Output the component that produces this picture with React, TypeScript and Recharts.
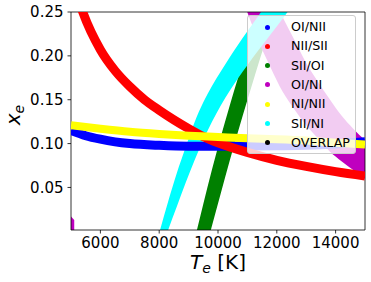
import React from 'react';
import { ComposedChart, Line, Area, XAxis, YAxis, ReferenceArea } from 'recharts';

const xTicks = [6000, 8000, 10000, 12000, 14000];
const yTicks = [0.05, 0.1, 0.15, 0.2, 0.25];

// OI/NII (blue) band centre
const oiNiiX = [5000, 5500, 6000, 6500, 7000, 8000, 9000, 10000, 11000, 12000, 13000, 14000, 15000];
const oiNiiY = [0.115, 0.109, 0.105, 0.102, 0.1, 0.098, 0.097, 0.097, 0.0972, 0.0975, 0.098, 0.0995, 0.102];

// NII/SII (red) band centre
const niiSiiX = [5200, 5400, 6000, 6500, 7000, 7500, 8000, 8500, 9000, 9500, 10000, 11000, 12000, 13000, 14000, 15000];
const niiSiiY = [0.27, 0.25, 0.207, 0.183, 0.165, 0.15, 0.138, 0.127, 0.117, 0.108, 0.101, 0.09, 0.081, 0.074, 0.068, 0.063];

// SII/OI (green) band edges
const siiOiX = [9200, 9500, 9800, 10100, 10400, 10700, 11000, 11300, 11600, 11900];
const siiOiLow = [-0.07, -0.031, 0.0068, 0.0441, 0.0806, 0.1158, 0.1498, 0.1828, 0.215, 0.2465];
const siiOiHigh = [-0.01, 0.031, 0.071, 0.1085, 0.1435, 0.177, 0.2095, 0.2415, 0.273, 0.304];

// OI/NI (magenta) band edges
const oiNiX = [10950, 11400, 11800, 12200, 12600, 13000, 13400, 13800, 14200, 14600, 15000, 15100];
const oiNiLow = [0.254, 0.215, 0.186, 0.159, 0.139, 0.121, 0.106, 0.091, 0.08, 0.07, 0.06, 0.058];
const oiNiHigh = [0.27, 0.27, 0.27, 0.244, 0.218, 0.192, 0.1706, 0.1505, 0.132, 0.117, 0.104, 0.101];
const oiNi2X = [5000, 5110];
const oiNi2Low = [-0.02, -0.02];
const oiNi2High = [0.017, 0.013];

// NI/NII (yellow) band centre
const niNiiX = [5000, 6000, 7000, 8000, 9000, 10000, 11000, 12000, 13000, 14000, 15000];
const niNiiY = [0.121, 0.117, 0.1135, 0.111, 0.109, 0.1075, 0.106, 0.105, 0.1035, 0.101, 0.099];

// SII/NI (cyan) band edges
const siiNiX = [8000, 8300, 8600, 8900, 9200, 9500, 9800, 10100, 10400, 10700, 11000, 11400, 11800, 12300, 12600];
const siiNiLow = [-0.03, 0.001, 0.0283, 0.0553, 0.0808, 0.1042, 0.1252, 0.1438, 0.1603, 0.1753, 0.1894, 0.2074, 0.225, 0.247, 0.26];
const siiNiHigh = [-0.002, 0.0334, 0.0664, 0.0958, 0.124, 0.147, 0.166, 0.1825, 0.1985, 0.2135, 0.228, 0.247, 0.265, 0.285, 0.295];

const legendNames = ['OI/NII', 'NII/SII', 'SII/OI', 'OI/NI', 'NI/NII', 'SII/NI', 'OVERLAP'];
const legendColors = ['#0000ff', '#ff0000', '#008000', '#bf00bf', '#ffff00', '#00ffff', '#000000'];

const pts = (xs: number[], ys: number[]) => xs.map((x, i) => ({ x, y: ys[i] }));
const rng = (xs: number[], lo: number[], hi: number[]) => xs.map((x, i) => ({ x, r: [lo[i], hi[i]] }));

const FONT = 'DejaVu Sans';

const XLabel = () => (
  <text x={218} y={269} textAnchor="middle" fontFamily={FONT} fontSize={20} fill="#000">
    <tspan fontStyle="italic">T</tspan>
    <tspan fontStyle="italic" fontSize={14} dy={4}>e</tspan>
    <tspan dy={-4}> [K]</tspan>
  </text>
);

const YLabel = () => (
  <text x={0} y={0} transform="translate(20,115) rotate(-90)" textAnchor="middle" fontFamily={FONT} fontSize={20} fill="#000">
    <tspan fontStyle="italic">x</tspan>
    <tspan fontStyle="italic" fontSize={14} dy={4}>e</tspan>
  </text>
);

export default function App() {
  const yMin = 0.0015;
  return (
    <div style={{ position: 'absolute', left: 0, top: 0, width: 371, height: 282, background: '#fff' }}>
      <ComposedChart width={371} height={282} margin={{ top: 12, right: 6, bottom: 22, left: 0 }}>
        <XAxis
          type="number"
          dataKey="x"
          domain={[5000, 15000]}
          allowDataOverflow
          ticks={xTicks}
          height={30}
          axisLine={false}
          tickLine={{ stroke: '#000', strokeWidth: 0.8 }}
          tickSize={3.5}
          tickMargin={4}
          tick={{ fill: '#000', fontSize: 15, fontFamily: FONT }}
          label={{ content: () => <XLabel /> }}
        />
        <YAxis
          type="number"
          domain={[yMin, 0.25]}
          allowDataOverflow
          ticks={yTicks}
          width={71}
          axisLine={false}
          tickLine={{ stroke: '#000', strokeWidth: 0.8 }}
          tickSize={3.5}
          tickMargin={4}
          tickFormatter={(v: number) => v.toFixed(2)}
          tick={{ fill: '#000', fontSize: 15, fontFamily: FONT }}
          label={{ content: () => <YLabel /> }}
        />
        <Line data={pts(oiNiiX, oiNiiY)} dataKey="y" type="monotone" stroke="#0000ff" strokeWidth={9} dot={false} activeDot={false} isAnimationActive={false} />
        <Line data={pts(niiSiiX, niiSiiY)} dataKey="y" type="monotone" stroke="#ff0000" strokeWidth={9} dot={false} activeDot={false} isAnimationActive={false} />
        <Area data={rng(siiOiX, siiOiLow, siiOiHigh)} dataKey="r" type="monotone" stroke="none" fill="#008000" fillOpacity={1} dot={false} activeDot={false} isAnimationActive={false} />
        <Area data={rng(oiNiX, oiNiLow, oiNiHigh)} dataKey="r" type="monotone" stroke="none" fill="#bf00bf" fillOpacity={1} dot={false} activeDot={false} isAnimationActive={false} />
        <Area data={rng(oiNi2X, oiNi2Low, oiNi2High)} dataKey="r" type="linear" stroke="none" fill="#bf00bf" fillOpacity={1} dot={false} activeDot={false} isAnimationActive={false} />
        <Line data={pts(niNiiX, niNiiY)} dataKey="y" type="monotone" stroke="#ffff00" strokeWidth={8} dot={false} activeDot={false} isAnimationActive={false} />
        <Area data={rng(siiNiX, siiNiLow, siiNiHigh)} dataKey="r" type="monotone" stroke="none" fill="#00ffff" fillOpacity={1} dot={false} activeDot={false} isAnimationActive={false} />
        <ReferenceArea x1={5000} x2={15000} y1={yMin} y2={0.25} fill="none" stroke="#000" strokeWidth={0.8} ifOverflow="visible" />
      </ComposedChart>
      <div
        style={{
          position: 'absolute',
          left: 247,
          top: 15,
          width: 109,
          height: 139,
          boxSizing: 'border-box',
          background: 'rgba(255,255,255,0.8)',
          border: '1px solid #cccccc',
          borderRadius: 3,
          fontFamily: FONT,
          fontSize: 12.7,
          color: '#000',
        }}
      >
        {legendNames.map((name, i) => (
          <div
            key={name}
            style={{ position: 'absolute', left: 0, top: 11 + 19.3 * i - 8, height: 16, width: '100%' }}
          >
            <span
              style={{
                position: 'absolute',
                left: 16.5,
                top: 5.5,
                width: 5,
                height: 5,
                borderRadius: '50%',
                background: legendColors[i],
              }}
            />
            <span style={{ position: 'absolute', left: 43, top: 0, lineHeight: '16px', whiteSpace: 'nowrap' }}>{name}</span>
          </div>
        ))}
      </div>
    </div>
  );
}
